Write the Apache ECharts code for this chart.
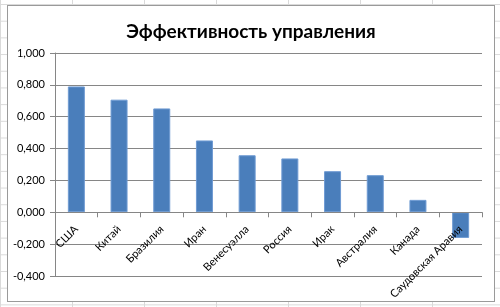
<!DOCTYPE html>
<html>
<head>
<meta charset="utf-8">
<script src="https://cdn.jsdelivr.net/npm/echarts@6/dist/echarts.min.js"></script>
<style>
  html, body { margin: 0; padding: 0; }
  body {
    width: 500px; height: 307px; position: relative; overflow: hidden;
    background-color: #fff;
    background-image:
      linear-gradient(to right, #dadada 1px, transparent 1px),
      linear-gradient(to bottom, #dadada 1px, transparent 1px);
    background-size: 72px 16.7px;
    background-position: 0 4px;
  }
  #box {
    position: absolute; left: 7px; top: 5px; width: 486px; height: 295px;
    background: #fff; border: 1px solid #9a9a9a;
  }
  #chart { width: 486px; height: 295px; }
</style>
</head>
<body>
<div id="box"><div id="chart"></div></div>
<script>
// данные диаграммы
var countries = ['США', 'Китай', 'Бразилия', 'Иран', 'Венесуэлла', 'Россия', 'Ирак', 'Австралия', 'Канада', 'Саудовская Аравия'];
var efficiency = [0.790, 0.707, 0.652, 0.451, 0.358, 0.338, 0.258, 0.233, 0.078, -0.161];

var myChart = echarts.init(document.getElementById('chart'));

function fmt(v) {
    if (Math.abs(v) < 1e-9) v = 0;
    return v.toFixed(3).replace('.', ',');
}

var gridTop = 47, gridBottom = 25, yMin = -0.4, yMax = 1.0;
var plotH = 295 - gridTop - gridBottom;
// сдвиг оси категорий к линии нуля
var zeroOffset = -plotH * (0 - yMin) / (yMax - yMin);

var option = {
    animation: false,
    title: {
        text: 'Эффективность управления',
        left: 'center',
        top: 11,
        textStyle: { fontFamily: 'Lato', fontWeight: 'bold', fontSize: 19, color: '#000' }
    },
    grid: { left: 47, right: 12, top: gridTop, bottom: gridBottom, outerBoundsMode: 'none', containLabel: false },
    xAxis: {
        type: 'category',
        data: countries,
        offset: zeroOffset,
        z: 5,
        axisLine: { onZero: false, lineStyle: { color: '#868686' } },
        axisTick: { show: true, length: 5, lineStyle: { color: '#868686' } },
        axisLabel: {
            rotate: 45, margin: 15, interval: 0,
            fontFamily: 'Lato', fontSize: 11, color: '#000'
        }
    },
    yAxis: {
        type: 'value',
        min: yMin, max: yMax, interval: 0.2,
        axisLine: { show: true, lineStyle: { color: '#868686' } },
        axisTick: { show: true, length: 5, lineStyle: { color: '#868686' } },
        splitLine: { lineStyle: { color: '#868686' } },
        axisLabel: {
            margin: 10, fontFamily: 'Lato', fontSize: 11, color: '#000',
            formatter: fmt
        }
    },
    series: [{
        type: 'bar',
        data: efficiency,
        barWidth: 17,
        itemStyle: { color: '#4a7ebb', borderColor: '#6f9bd3', borderWidth: 1 }
    }]
};

myChart.setOption(option, true);
</script>
</body>
</html>
